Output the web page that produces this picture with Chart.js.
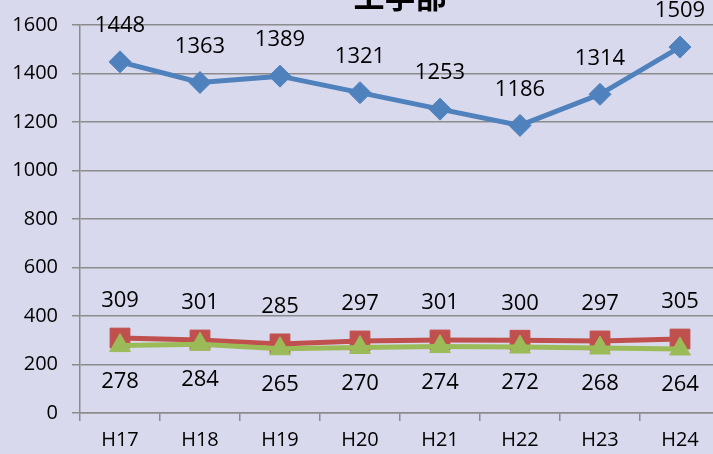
<!DOCTYPE html>
<html>
<head>
<meta charset="utf-8">
<script src="https://cdn.jsdelivr.net/npm/chart.js@4"></script>
<style>
    html, body { margin: 0; padding: 0; overflow: hidden; background: #d8d9ec; }
    #wrap { position: absolute; left: 0; top: -24px; width: 740px; height: 480px; }
</style>
</head>
<body>
<div id="wrap"><canvas id="grafico"></canvas></div>
<script>
// Datos del gráfico
const titulo = '工学部';
const categorias = ['H17', 'H18', 'H19', 'H20', 'H21', 'H22', 'H23', 'H24'];
const serieAzul = [1448, 1363, 1389, 1321, 1253, 1186, 1314, 1509];
const serieRoja = [309, 301, 285, 297, 301, 300, 297, 305];
const serieVerde = [278, 284, 265, 270, 274, 272, 268, 264];
const ticksY = [0, 200, 400, 600, 800, 1000, 1200, 1400, 1600];

const fuente = "'Open Sans', 'Liberation Sans', sans-serif";

// Etiquetas de valores y título centrado sobre el área del gráfico
const etiquetas = {
    id: 'etiquetas',
    afterDatasetsDraw(chart) {
        const ctx = chart.ctx;
        ctx.save();
        ctx.font = '22px ' + fuente;
        ctx.fillStyle = '#000';
        ctx.textAlign = 'center';
        ctx.textBaseline = 'middle';
        chart.data.datasets.forEach((ds, i) => {
            const meta = chart.getDatasetMeta(i);
            meta.data.forEach((p, j) => {
                ctx.fillText(ds.data[j], p.x, p.y + ds.desplazamiento);
            });
        });
        // título
        const area = chart.chartArea;
        ctx.font = "bold 31px 'Noto Sans CJK JP'";
        ctx.textBaseline = 'alphabetic';
        ctx.fillText(titulo, (area.left + area.right) / 2, area.top - 17);
        ctx.restore();
    }
};

const ctx = document.getElementById('grafico').getContext('2d');
new Chart(ctx, {
    type: 'line',
    data: {
        labels: categorias,
        datasets: [{
            data: serieAzul,
            borderColor: '#4f81bd',
            backgroundColor: '#4f81bd',
            borderWidth: 5,
            pointStyle: 'rectRot',
            pointRadius: 11,
            pointBorderWidth: 1,
            order: 1,
            desplazamiento: -36
        }, {
            data: serieRoja,
            borderColor: '#c0504d',
            backgroundColor: '#c0504d',
            borderWidth: 5,
            pointStyle: 'rect',
            pointRadius: 14,
            pointBorderWidth: 1,
            order: 3,
            desplazamiento: -37
        }, {
            data: serieVerde,
            borderColor: '#9bbb59',
            backgroundColor: '#9bbb59',
            borderWidth: 5,
            pointStyle: 'triangle',
            pointRadius: 12,
            pointBorderWidth: 1,
            order: 2,
            desplazamiento: 36
        }]
    },
    options: {
        responsive: true,
        maintainAspectRatio: false,
        animation: false,
        layout: {
            padding: { left: 0, right: 20, top: 49, bottom: 0 }
        },
        plugins: {
            legend: { display: false },
            tooltip: { enabled: false },
            title: { display: false }
        },
        scales: {
            x: {
                offset: true,
                afterFit(axis) { axis.height = 43; },
                grid: {
                    offset: true,
                    drawOnChartArea: false,
                    tickLength: 8,
                    color: '#8c8c8c',
                    lineWidth: 1.5
                },
                border: { color: '#8c8c8c', width: 1.5 },
                ticks: {
                    color: '#000',
                    padding: 7,
                    font: { family: fuente, size: 20 }
                }
            },
            y: {
                min: 0,
                max: 1600,
                afterFit(axis) { axis.width = 80; },
                afterBuildTicks(axis) { axis.ticks = ticksY.map(v => ({ value: v })); },
                grid: {
                    tickLength: 8,
                    color: '#8c8c8c',
                    lineWidth: 1.5
                },
                border: { color: '#8c8c8c', width: 1.5 },
                ticks: {
                    color: '#000',
                    padding: 14,
                    font: { family: fuente, size: 20 },
                    callback: v => String(v)
                }
            }
        }
    },
    plugins: [etiquetas]
});
</script>
</body>
</html>
